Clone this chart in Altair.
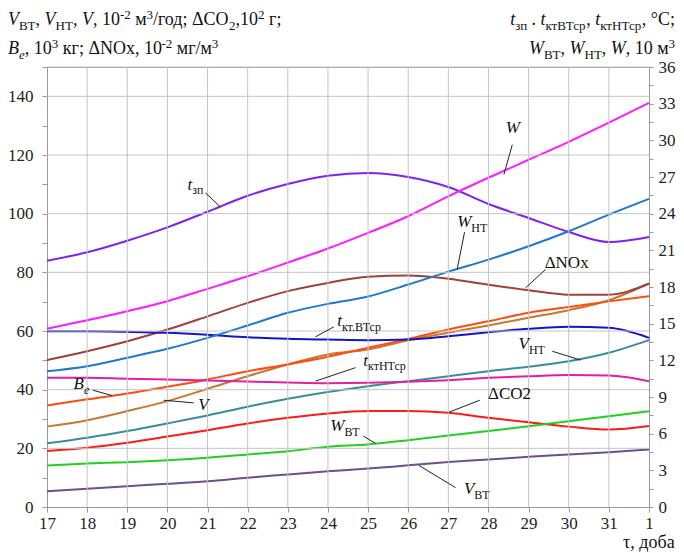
import altair as alt
import pandas as pd

# ---------------- data ----------------
days = ["17", "18", "19", "20", "21", "22", "23", "24", "25", "26", "27", "28", "29", "30", "31", "1"]

# left axis series (V, 10^-2 m3/day; dCO2 10^2 g; Be 10^3 kg; dNOx 10^-2 mg/m3)
V_VT = [5.4, 6.2, 7.1, 7.9, 8.8, 10.0, 11.1, 12.2, 13.1, 14.2, 15.3, 16.2, 17.1, 17.9, 18.7, 19.6]
V_NT = [21.7, 23.6, 25.9, 28.5, 31.2, 34.2, 36.9, 39.2, 41.2, 42.9, 44.6, 46.3, 47.8, 49.7, 52.6, 56.9]
V = [27.4, 29.6, 32.7, 36.1, 40.3, 44.6, 48.6, 52.0, 53.7, 56.8, 59.4, 61.9, 64.5, 67.1, 70.5, 76.2]
dCO2 = [19.1, 20.2, 21.9, 24.0, 26.2, 28.5, 30.4, 31.9, 32.7, 32.7, 32.1, 30.4, 28.9, 27.4, 26.4, 27.6]
B_e = [34.6, 36.7, 38.7, 41.0, 43.5, 46.3, 48.6, 51.2, 54.3, 57.3, 60.5, 63.3, 66.2, 68.2, 70.1, 71.9]
dNOx = [50.1, 53.1, 56.5, 60.5, 65.0, 69.6, 73.6, 76.4, 78.5, 78.9, 77.8, 75.8, 73.9, 72.4, 72.4, 76.2]

# right axis series (t, degC; W, 10 m3)
t_zp = [20.15, 20.84, 21.79, 22.88, 24.16, 25.47, 26.43, 27.11, 27.33, 27.0, 26.18, 24.79, 23.65, 22.5, 21.68, 22.09]
t_ktVT = [14.38, 14.38, 14.33, 14.25, 14.09, 13.89, 13.76, 13.7, 13.65, 13.7, 13.97, 14.3, 14.58, 14.74, 14.66, 13.84]
t_ktNT = [10.57, 10.57, 10.49, 10.43, 10.35, 10.27, 10.19, 10.13, 10.16, 10.25, 10.38, 10.57, 10.7, 10.79, 10.76, 10.29]
W_VT = [3.4, 3.56, 3.67, 3.83, 4.03, 4.3, 4.57, 4.93, 5.12, 5.47, 5.85, 6.21, 6.61, 7.02, 7.43, 7.84]
W_NT = [11.11, 11.52, 12.21, 12.94, 13.84, 14.85, 15.89, 16.62, 17.22, 18.2, 19.26, 20.24, 21.33, 22.56, 23.92, 25.21]
W = [14.58, 15.28, 16.02, 16.84, 17.85, 18.88, 20.0, 21.15, 22.43, 23.79, 25.42, 26.94, 28.41, 29.88, 31.45, 33.07]

left_series = {"V_VT": V_VT, "V_NT": V_NT, "V": V, "dCO2": dCO2, "B_e": B_e, "dNOx": dNOx}
right_series = {"t_zp": t_zp, "t_ktVT": t_ktVT, "t_ktNT": t_ktNT, "W_VT": W_VT, "W_NT": W_NT, "W": W}

series_colors = {"V_VT": "#6B5090", "V_NT": "#3A8C9C", "V": "#C8782D", "dCO2": "#FF1A1A",
                 "B_e": "#FF4A10", "dNOx": "#A0403C", "t_zp": "#7F22F0", "t_ktVT": "#1414C8",
                 "t_ktNT": "#E020A0", "W_VT": "#20D020", "W_NT": "#1E78D2", "W": "#FF1AFF"}

# gridlines and ticks
h_grid = [20, 40, 60, 80, 100, 120, 140, 150]
v_grid = list(range(1, 15))
left_ticks = list(range(0, 151, 10))
right_ticks = [j * 1.5 for j in range(25)]

# in-plot labels: anchor (x in day index, y in left-axis units), text pieces
label_x = [3.50, 11.43, 10.22, 12.40, 7.23, 7.88, 0.66, 3.77, 11.75, 10.99, 7.06, 10.39]
label_y = [108.2, 127.6, 95.3, 81.6, 61.7, 48.1, 40.1, 33.2, 53.7, 36.7, 25.9, 4.3]
label_parts = [
    [("t", "i"), ("зп", "b")],
    [("W", "i")],
    [("W", "i"), ("НТ", "b")],
    [("ΔNOx", "n")],
    [("t", "i"), ("кт.ВТср", "b")],
    [("t", "i"), ("ктНТср", "b")],
    [("B", "i"), ("e", "bi")],
    [("V", "i")],
    [("V", "i"), ("НТ", "b")],
    [("ΔCO2", "n")],
    [("W", "i"), ("ВТ", "b")],
    [("V", "i"), ("ВТ", "b")],
]
# leader lines (x1, y1) -> (x2, y2) in data units
lead_x1 = [3.947, 11.593, 10.404, 12.423, 7.145, 7.686, 1.147, 3.655, 12.590, 10.785, 7.878, 10.180]
lead_y1 = [107.1, 123.5, 93.7, 81.0, 61.4, 47.5, 39.8, 35.5, 53.1, 36.4, 24.2, 6.6]
lead_x2 = [4.321, 11.384, 10.222, 11.925, 6.689, 6.689, 1.621, 2.907, 13.296, 10.012, 8.185, 9.264]
lead_y2 = [102.3, 113.3, 81.2, 74.7, 58.0, 42.9, 38.0, 36.4, 50.1, 32.3, 21.7, 14.2]

# axis titles (pieces)
title_left1 = [("V", "i"), ("ВТ", "b"), (", ", "n"), ("V", "i"), ("НТ", "b"), (", ", "n"), ("V", "i"),
               (", 10", "n"), ("-2", "p"), (" м", "n"), ("3", "p"), ("/год; ΔCO", "n"), ("2", "b"),
               (",10", "n"), ("2", "p"), (" г;", "n")]
title_left2 = [("B", "i"), ("e", "bi"), (", 10", "n"), ("3", "p"), (" кг; ΔNOx, 10", "n"), ("-2", "p"),
               (" мг/м", "n"), ("3", "p")]
title_right1 = [("t", "i"), ("зп", "b"), (" . ", "n"), ("t", "i"), ("ктВТср", "b"), (", ", "n"),
                ("t", "i"), ("ктНТср", "b"), (", °C;", "n")]
title_right2 = [("W", "i"), ("ВТ", "b"), (", ", "n"), ("W", "i"), ("НТ", "b"), (", ", "n"), ("W", "i"),
                (", 10 м", "n"), ("3", "p")]
title_x = [("τ, доба", "n")]

# ---------------- layout helpers ----------------
PW, PH = 602, 440
PXX = PW / 15.0
PXY = PH / 150.0
FONT = "Liberation Serif"

NW = {" ": .25, ",": .25, ".": .25, ";": .278, ":": .278, "/": .278, "-": .333, "Δ": .612,
      "C": .667, "O": .722, "N": .722, "x": .5, "°": .4, "τ": .44, "В": .667, "Н": .722, "Т": .611,
      "а": .444, "б": .5, "г": .42, "д": .5, "з": .4, "к": .48, "м": .62, "о": .5, "п": .5,
      "р": .5, "с": .444, "т": .44, "е": .444}
IW = {"V": .611, "W": .833, "B": .611, "t": .278, "e": .444}


def cw(c, italic):
    if italic and c in IW:
        return IW[c]
    return NW.get(c, .5)


def pieces(segs, base, sub):
    rows, x = [], 0.0
    for text, kind in segs:
        italic = kind in ("i", "bi")
        size = base if kind in ("n", "i") else sub
        dy = 0.0
        if kind in ("b", "bi"):
            dy = 0.27 * base
        elif kind == "p":
            dy = -0.36 * base
        lead = len(text) - len(text.lstrip(" "))
        core = text.strip(" ")
        rows.append(dict(t=core, dx=x + lead * 0.25 * size, dy=dy, fs=size, it=italic))
        x += sum(cw(c, italic) for c in text) * size
    return rows, x


text_rows = []
# titles: anchors in pixels relative to the plot's top-left corner, converted to data units
for segs, ax, ay, right in [(title_left1, -39, -42, False), (title_left2, -39, -13, False),
                            (title_right1, 628, -42, True), (title_right2, 628, -13, True),
                            (title_x, 628, 481, True)]:
    rows, tot = pieces(segs, 18, 13)
    for r in rows:
        px = ax + r["dx"] - (tot if right else 0)
        py = ay + r["dy"]
        text_rows.append(dict(t=r["t"], xd=px / PXX, yd=150 - py / PXY, fs=r["fs"], it=r["it"]))
# in-plot labels
for ax, ay, segs in zip(label_x, label_y, label_parts):
    rows, tot = pieces(segs, 17, 12)
    for r in rows:
        text_rows.append(dict(t=r["t"], xd=ax + r["dx"] / PXX, yd=ay - r["dy"] / PXY, fs=r["fs"], it=r["it"]))
tdf = pd.DataFrame(text_rows)

ldf = pd.DataFrame(dict(x1=lead_x1, y1=lead_y1, x2=lead_x2, y2=lead_y2))
hdf = pd.DataFrame(dict(g=h_grid, a=[0] * len(h_grid), b=[15] * len(h_grid)))
vdf = pd.DataFrame(dict(g=v_grid, a=[0] * len(v_grid), b=[150] * len(v_grid)))

left_df = pd.DataFrame([dict(s=k, i=i, v=v) for k, vals in left_series.items() for i, v in enumerate(vals)])
right_df = pd.DataFrame([dict(s=k, i=i, v=v) for k, vals in right_series.items() for i, v in enumerate(vals)])

# ---------------- scales & axes ----------------
xscale = alt.Scale(domain=[0, 15], nice=False, zero=False)
yl_scale = alt.Scale(domain=[0, 150], nice=False, zero=True)
yr_scale = alt.Scale(domain=[0, 36], nice=False, zero=True)

days_js = "[" + ",".join("'%s'" % d for d in days) + "]"
xaxis = alt.Axis(values=list(range(16)), labelExpr=days_js + "[round(datum.value)]", title=None, grid=False,
                 domainColor="#9A9A9A", tickColor="#9A9A9A", tickSize=5,
                 labelFont=FONT, labelFontSize=17, labelColor="#222", labelPadding=3, labelFlush=False)
yl_axis = alt.Axis(values=left_ticks,
                   labelExpr="datum.value % 20 == 0 && datum.value < 150 ? datum.label : ''",
                   title=None, grid=False,
                   domainColor="#9A9A9A", tickColor="#9A9A9A", tickSize=5, labelFont=FONT,
                   labelFontSize=17, labelColor="#222", labelPadding=9)
yr_axis = alt.Axis(values=right_ticks, orient="right",
                   labelExpr="datum.value % 3 == 0 ? datum.label : ''",
                   title=None, grid=False, domainColor="#9A9A9A", tickColor="#9A9A9A", tickSize=4,
                   labelFont=FONT, labelFontSize=17, labelColor="#222", labelPadding=5)

hgrid = alt.Chart(hdf).mark_rule(color="#C4C4C4", strokeWidth=1).encode(
    x=alt.X("a:Q", scale=xscale, axis=xaxis), x2="b:Q",
    y=alt.Y("g:Q", scale=yl_scale, axis=None),
)
vgrid = alt.Chart(vdf).mark_rule(color="#C4C4C4", strokeWidth=1).encode(
    x=alt.X("g:Q", scale=xscale, axis=xaxis),
    y=alt.Y("a:Q", scale=yl_scale, axis=None), y2="b:Q",
)


def series_layer(df, name, yscale, yaxis):
    return alt.Chart(df).transform_filter(alt.datum.s == name).mark_line(
        interpolate="monotone", strokeWidth=2, color=series_colors[name]
    ).encode(
        x=alt.X("i:Q", scale=xscale, axis=xaxis),
        y=alt.Y("v:Q", scale=yscale, axis=yaxis),
    )


line_layers = []
for n, name in enumerate(left_series):
    line_layers.append(series_layer(left_df, name, yl_scale, yl_axis if n == 0 else None))
for n, name in enumerate(right_series):
    line_layers.append(series_layer(right_df, name, yr_scale, yr_axis if n == 0 else None))

leaders = alt.Chart(ldf).mark_rule(color="#222", strokeWidth=1).encode(
    x=alt.X("x1:Q", scale=xscale, axis=xaxis), y=alt.Y("y1:Q", scale=yl_scale, axis=None),
    x2="x2:Q", y2="y2:Q",
)


def text_layer(italic):
    return alt.Chart(tdf[tdf["it"] == italic]).mark_text(
        font=FONT, align="left", baseline="alphabetic", color="#111",
        fontStyle="italic" if italic else "normal",
    ).encode(
        x=alt.X("xd:Q", scale=xscale, axis=xaxis),
        y=alt.Y("yd:Q", scale=yl_scale, axis=None),
        text="t:N",
        size=alt.Size("fs:Q", scale=None, legend=None),
    )


chart = alt.layer(
    *line_layers, hgrid, vgrid, leaders, text_layer(False), text_layer(True),
).resolve_scale(y="independent").properties(
    width=PW, height=PH,
    autosize=alt.AutoSizeParams(type="none"),
    padding={"left": 39, "top": 59, "right": 27, "bottom": 45},
    background="white",
).configure_view(stroke="#9A9A9A", strokeWidth=1)

chart.save("out.html", embed_options={"renderer": "svg", "actions": False})
